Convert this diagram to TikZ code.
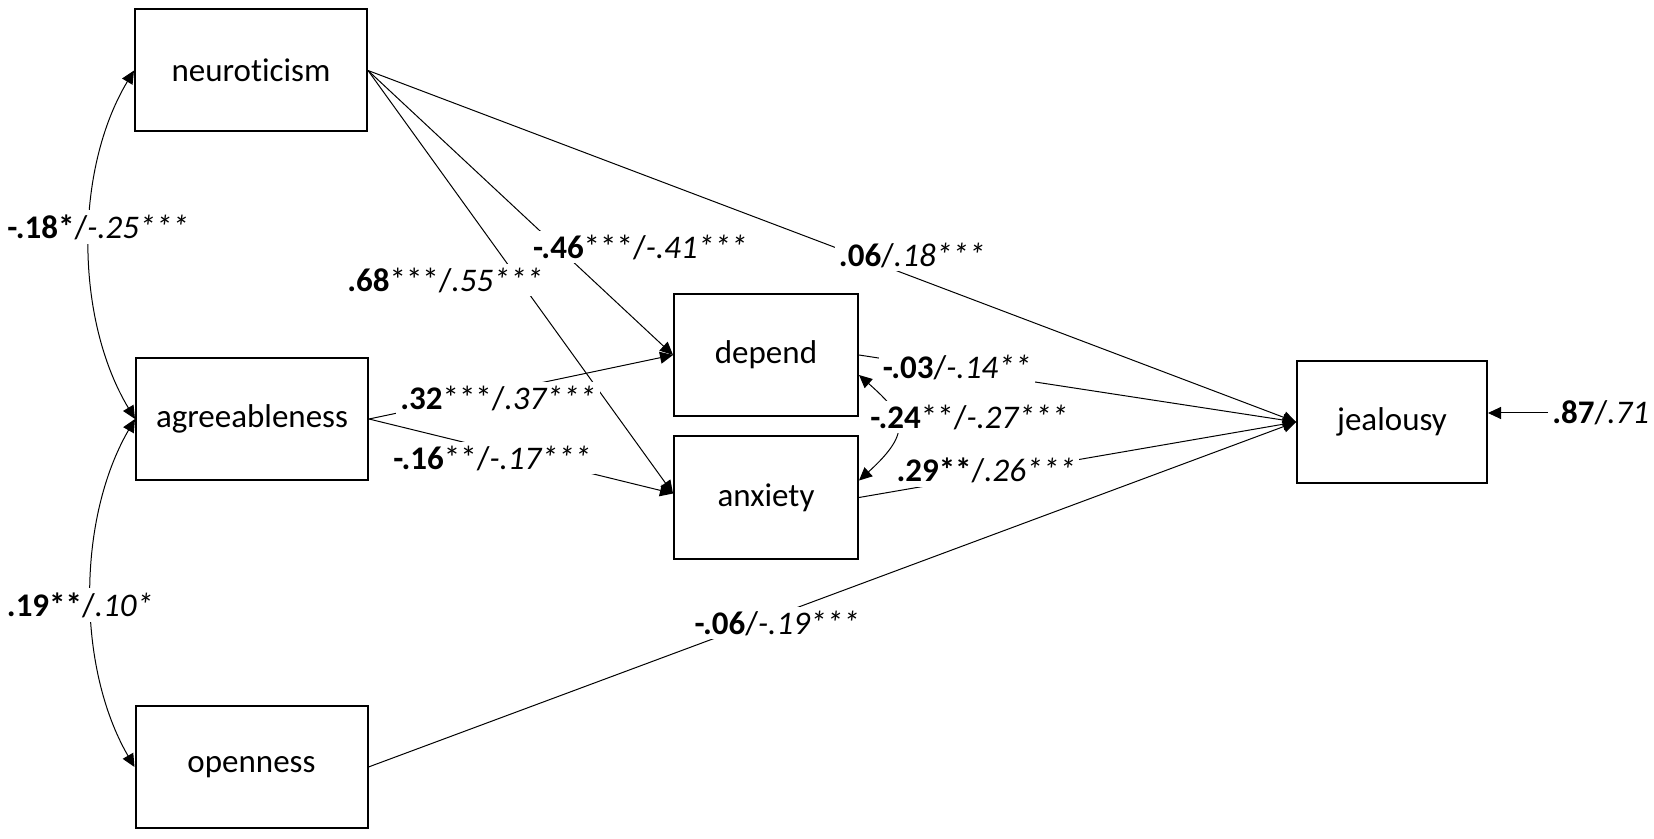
\documentclass[tikz,border=0pt]{standalone}
\usepackage{fontspec}
\setmainfont{Carlito}[Ligatures=NoCommon]
\usetikzlibrary{arrows.meta,calc}
\begin{document}
\begin{tikzpicture}[x=0.5pt,y=-0.5pt,
  box/.style={draw,line width=1pt,minimum height=61pt,inner sep=0pt,font=\fontsize{16.5}{19}\selectfont},
  wbox/.style={box,minimum width=116pt},
  conn/.style={line width=0.5pt,-{Triangle[length=6.5pt,width=6pt]}},
  dconn/.style={line width=0.5pt,{Triangle[length=6.5pt,width=6pt]}-{Triangle[length=6.5pt,width=6pt]}},
  lab/.style={fill=white,inner xsep=2pt,inner ysep=2pt,font=\fontsize{16.5}{19}\selectfont}]
\useasboundingbox (0,0) rectangle (1654,839);
% boxes
\node[wbox] (neu) at (251,70.5) {neuroticism};
\node[wbox] (agr) at (252,419) {agreeableness};
\node[wbox] (ope) at (251.5,767) {openness};
\node[box,minimum width=92pt] (dep) at (766,355) {depend};
\node[box,minimum width=92pt] (anx) at (766,497.5) {anxiety};
\node[box,minimum width=95pt] (jea) at (1392,422) {jealousy};
% paths
\draw[conn] (neu.east) -- (dep.west);
\draw[conn] (neu.east) -- ($(anx.west)+(0,-4)$);
\draw[conn] (neu.east) -- (jea.west);
\draw[conn] (agr.east) -- (dep.west);
\draw[conn] (agr.east) -- ($(anx.west)+(0,-4)$);
\draw[conn] (dep.east) -- (jea.west);
\draw[conn] (anx.east) -- (jea.west);
\draw[conn] (ope.east) -- (jea.west);
% correlations
\draw[dconn] (neu.west) .. controls +(-60,100) and +(-60,-100) .. (agr.west);
\draw[dconn] (agr.west) .. controls +(-58,100) and +(-58,-100) .. (ope.west);
% labels
\node[lab] (l1) at (98,227) {\textbf{-.18*}/\textit{-.25***}};
\node[lab] (l2) at (80,605) {\textbf{.19**}/\textit{.10*}};
\node[lab] (l3) at (445,280) {\textbf{.68}***/\textit{.55***}};
\node[lab] (l4) at (640,247) {\textbf{-.46}***/\textit{-.41***}};
\node[lab] (l5) at (498,398) {\textbf{.32}***/\textit{.37***}};
\node[lab] (l6) at (492,458) {\textbf{-.16}**/\textit{-.17***}};
\node[lab] (l7) at (912,255) {\textbf{.06}/\textit{.18***}};
\node[lab] (l8) at (957,367) {\textbf{-.03}/\textit{-.14**}};
\draw[dconn] ($(dep.east)+(0,20)$) .. controls +(45,40) and +(55,-50) .. ($(anx.east)+(0,-17)$);
\node[lab] (l9) at (969,417) {\textbf{-.24}**/\textit{-.27***}};
\node[lab] (l10) at (986,470) {\textbf{.29**}/\textit{.26***}};
\node[lab] (l11) at (777,623) {\textbf{-.06}/\textit{-.19***}};
\node[lab,anchor=west,inner xsep=0pt] (res) at (1552,413) {\textbf{.87}/\textit{.71}};
\draw[conn] ([xshift=-2pt]res.west) -- (res.west -| jea.east);
\end{tikzpicture}
\end{document}
